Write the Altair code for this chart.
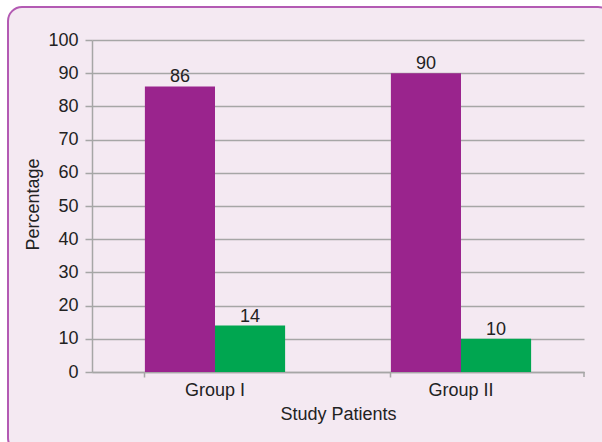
import altair as alt
import pandas as pd

groups = ["Group I", "Group I", "Group II", "Group II"]
series = ["A", "B", "A", "B"]
values = [86, 14, 90, 10]
y_ticks = [0, 10, 20, 30, 40, 50, 60, 70, 80, 90, 100]

df = pd.DataFrame({"group": groups, "series": series, "value": values})

FONT = "Liberation Sans"
GRAY = "#a6a6a6"
TXT = "#222222"
PANEL = "#f4e9f2"

y_axis = alt.Axis(values=y_ticks, title="Percentage")
y_scale = alt.Scale(domain=[0, 100], nice=False)
x_enc = alt.X(
    "group:N",
    scale=alt.Scale(paddingInner=0.43, paddingOuter=0.215),
    axis=alt.Axis(title="Study Patients"),
)

bars = alt.Chart(df).mark_bar(stroke=None).encode(
    x=x_enc,
    xOffset=alt.XOffset("series:N", scale=alt.Scale(paddingInner=0, paddingOuter=0)),
    y=alt.Y("value:Q", scale=y_scale, axis=y_axis),
    color=alt.Color(
        "series:N",
        scale=alt.Scale(domain=["A", "B"], range=["#9a248d", "#00a650"]),
        legend=None,
    ),
)

labels = alt.Chart(df).mark_text(
    baseline="bottom", dy=0, fontSize=18, font=FONT, color=TXT
).encode(
    x=x_enc,
    xOffset=alt.XOffset("series:N"),
    y=alt.Y("value:Q", scale=y_scale, axis=y_axis),
    text=alt.Text("value:Q"),
)

end_tick = alt.Chart(pd.DataFrame({"d": [0]})).mark_rule(
    color=GRAY, strokeWidth=1.5
).encode(x=alt.value(492), y=alt.value(332), y2=alt.value(337))

# white mask outside the rounded panel, then the panel border
mask = alt.Chart(pd.DataFrame({"d": [0]})).mark_rect(
    fillOpacity=0, stroke="white", strokeWidth=20, cornerRadius=24
).encode(
    x=alt.value(-94), x2=alt.value(530), y=alt.value(-43), y2=alt.value(422)
)
border = alt.Chart(pd.DataFrame({"d": [0]})).mark_rect(
    fillOpacity=0, stroke="#b35ab3", strokeWidth=2, cornerRadius=14
).encode(
    x=alt.value(-84), x2=alt.value(520), y=alt.value(-33), y2=alt.value(412)
)

chart = (
    alt.layer(bars, labels, end_tick, mask, border)
    .properties(
        width=492, height=332,
        padding={"left": 92, "top": 40, "right": 18, "bottom": 70},
        autosize=alt.AutoSizeParams(type="none"),
        background=PANEL,
    )
    .configure_view(stroke=None)
    .configure_axis(
        domainColor=GRAY, domainWidth=1.5, tickColor=GRAY,
        tickWidth=1.5, labelFont=FONT, labelColor=TXT, titleFont=FONT,
        titleFontWeight="normal", titleColor=TXT, titleFontSize=18,
        gridColor=GRAY, gridWidth=1.5, labelFontSize=18,
    )
    .configure_axisY(
        grid=True, labelOverlap=False, tickSize=7, labelFontSize=18, labelPadding=7,
        titleX=-59, titleY=164, titleBaseline="middle", titleAngle=270,
    )
    .configure_axisX(
        grid=False, labelAngle=0, bandPosition=0, tickSize=5, labelFontSize=18,
        labelPadding=4, titleY=42, titleBaseline="middle",
    )
)

chart.save("out.html", embed_options={"renderer": "svg", "actions": False})
